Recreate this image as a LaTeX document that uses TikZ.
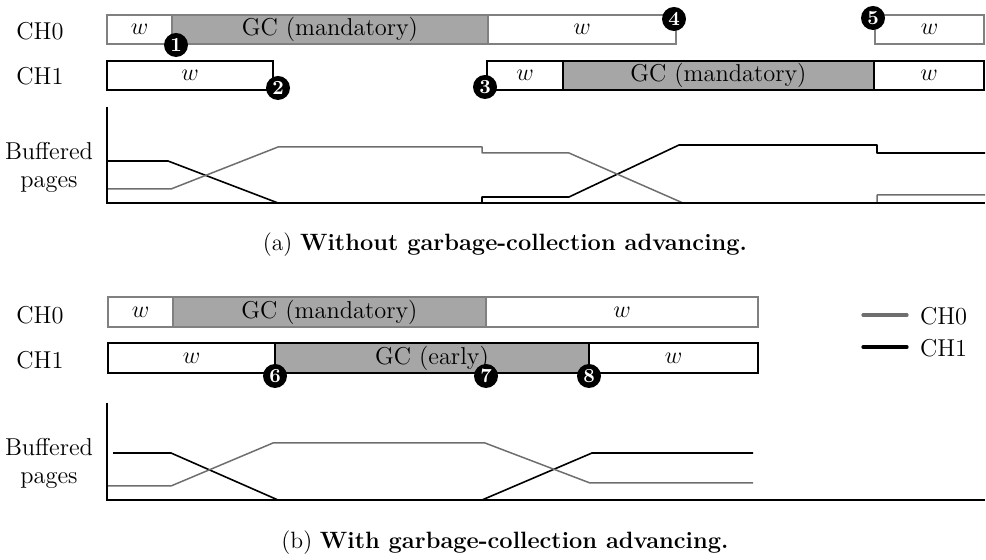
\documentclass[tikz,border=0pt]{standalone}
\usetikzlibrary{calc}
\definecolor{chgray}{HTML}{808080}
\definecolor{gcfill}{HTML}{A6A6A6}
\definecolor{linegray}{HTML}{6E6E6E}
\newcommand{\seg}[7]{%
  \draw[#1] (#3,#4) rectangle (#5,#6);
  \node[lbl] (#2) at ({(#3+#5)/2},{(#4+#6)/2}) {#7};}
\begin{document}
\begin{tikzpicture}[x=0.5pt,y=-0.5pt,
  every node/.style={font=\fontsize{12.2}{14}\selectfont},
  lbl/.style={inner sep=0pt},
  ch0box/.style={draw=chgray,line width=0.75pt},
  ch1box/.style={draw=black,line width=0.75pt},
  gc/.style={fill=gcfill},
  badge/.style={circle,fill=black,text=white,inner sep=0pt,minimum size=12pt,
    font=\fontsize{10}{10}\selectfont\bfseries},
  ch0line/.style={draw=linegray,line width=0.75pt,line join=round},
  ch1line/.style={draw=black,line width=0.8pt,line join=round},
  axis/.style={draw=black,line width=0.8pt},
  caption/.style={font=\fontsize{11.8}{14}\selectfont}]
\useasboundingbox (0,0) rectangle (986,560);

% ---------------- (a) without GC advancing ----------------
\node (a-ch0) at (40,31) {CH0};
\node (a-ch1) at (40,76) {CH1};

\seg{ch0box}{a0w1}{107}{15}{172}{44}{$w$}
\seg{ch0box,gc}{a0gc}{172}{15}{488}{44}{GC (mandatory)}
\seg{ch0box}{a0w2}{488}{15}{676}{44}{$w$}
\seg{ch0box}{a0w3}{875}{15}{984}{44}{$w$}

\seg{ch1box}{a1w1}{107}{61}{273}{90}{$w$}
\seg{ch1box}{a1w2}{487}{61}{563}{90}{$w$}
\seg{ch1box,gc}{a1gc}{563}{61}{874}{90}{GC (mandatory)}
\seg{ch1box}{a1w3}{874}{61}{984}{90}{$w$}

\node[badge] (b1) at (176,45) {1};
\node[badge] (b2) at (278,88) {2};
\node[badge] (b3) at (485,87) {3};
\node[badge] (b4) at (674,19) {4};
\node[badge] (b5) at (873,18) {5};

\node[align=center] (a-buf) at (49,167) {Buffered\\pages};
\draw[ch1line] (108,161) -- (168,161) -- (278,203) -- (482,203) -- (482,197)
  -- (569,197) -- (679,145) -- (877,145) -- (877,153) -- (985,153);
\draw[ch0line] (108,189) -- (171,189) -- (278,147) -- (482,147) -- (482,153)
  -- (569,153) -- (683,203) -- (877,203) -- (877,195) -- (985,195);
\draw[axis] (107,107) -- (107,203) -- (985,203);

\node[caption] (cap-a) at (505,245) {(a) \textbf{Without garbage-collection advancing.}};

% ---------------- (b) with GC advancing ----------------
\node (b-ch0) at (40,315) {CH0};
\node (b-ch1) at (40,360) {CH1};

\seg{ch0box}{b0w1}{108}{297}{173}{327}{$w$}
\seg{ch0box,gc}{b0gc}{173}{297}{486}{327}{GC (mandatory)}
\seg{ch0box}{b0w2}{486}{297}{758}{327}{$w$}

\seg{ch1box}{b1w1}{108}{343}{275}{373}{$w$}
\seg{ch1box,gc}{b1gc}{275}{343}{589}{373}{GC (early)}
\seg{ch1box}{b1w2}{589}{343}{758}{373}{$w$}

\node[badge] (b6) at (275,376) {6};
\node[badge] (b7) at (486,376) {7};
\node[badge] (b8) at (589,376) {8};

% legend
\coordinate (l0a) at (863,315); \coordinate (l0b) at (907,315);
\coordinate (l1a) at (863,347); \coordinate (l1b) at (907,347);
\draw[draw=linegray,line width=1.6pt,line cap=round] (l0a) -- (l0b);
\draw[draw=black,line width=1.6pt,line cap=round] (l1a) -- (l1b);
\node[anchor=west] (leg0) at (913,316) {CH0};
\node[anchor=west] (leg1) at (913,348) {CH1};

\node[align=center] (b-buf) at (49,463) {Buffered\\pages};
\draw[ch1line] (113,453) -- (171,453) -- (278,500) -- (482,500) -- (592,453) -- (753,453);
\draw[ch0line] (108,486) -- (171,486) -- (273,443) -- (485,443) -- (590,483) -- (753,483);
\draw[axis] (107,403) -- (107,500) -- (985,500);

\node[caption] (cap-b) at (505,543) {(b) \textbf{With garbage-collection advancing.}};
\end{tikzpicture}
\end{document}
